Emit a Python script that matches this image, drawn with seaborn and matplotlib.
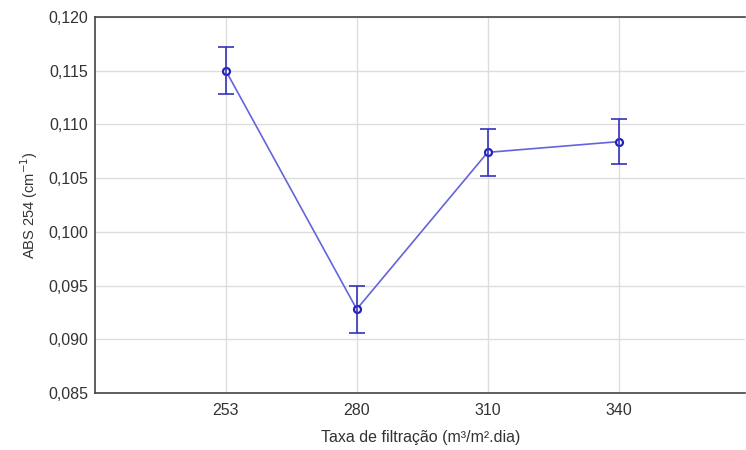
import matplotlib
matplotlib.use("Agg")
import matplotlib.pyplot as plt
import seaborn as sns
import pandas as pd
from matplotlib.ticker import FuncFormatter, MultipleLocator

taxas = ["253", "280", "310", "340"]
abs254 = [0.1150, 0.0928, 0.1074, 0.1084]
erro = [0.0022, 0.0022, 0.0022, 0.0021]

sns.set_theme(style="whitegrid")
plt.rcParams['font.family'] = ['Liberation Sans', 'DejaVu Sans']

df = pd.DataFrame({"taxa": taxas, "abs": abs254, "err": erro})

fig = plt.figure(figsize=(7.46, 4.5), dpi=100)
ax = fig.add_axes([0.1273, 0.1267, 0.872, 0.8355])

sns.pointplot(data=df, x="taxa", y="abs", order=taxas, errorbar=None,
              color="#6464dc", markers="o", linestyles="-", ax=ax,
              markersize=5, linewidth=1.2,
              markerfacecolor="white", markeredgecolor="#2222bb", markeredgewidth=1.6)
ax.errorbar(range(len(taxas)), df["abs"], yerr=df["err"], fmt="none",
            ecolor="#3333bb", elinewidth=1.2, capsize=6, capthick=1.2, zorder=4)

ax.set_xlim(-1, 3.97)
ax.set_ylim(0.085, 0.120)
ax.yaxis.set_major_locator(MultipleLocator(0.005))
ax.yaxis.set_major_formatter(FuncFormatter(lambda v, p: f"{v:.3f}".replace(".", ",")))

ax.grid(True, color="#dddddd", linewidth=1)
for s in ["left", "bottom", "top"]:
    ax.spines[s].set_color("#444444")
    ax.spines[s].set_linewidth(1.2)
ax.spines["right"].set_visible(False)

ax.tick_params(axis="both", labelsize=11.5, colors="#333333", length=3, direction="inout")
ax.tick_params(axis="x", pad=6)
ax.set_xlabel("Taxa de filtração (m³/m².dia)", fontsize=11.5, color="#333333", labelpad=8)
ax.set_ylabel("ABS 254 (cm$^{-1}$)", fontsize=10.5, color="#333333", labelpad=6)

fig.savefig("out.png", dpi=100)
